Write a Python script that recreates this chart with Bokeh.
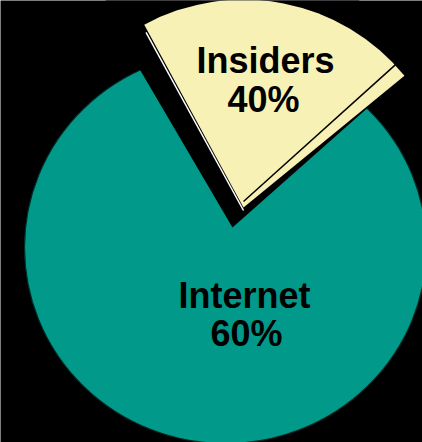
from bokeh.plotting import figure
from bokeh.models import Range1d
from bokeh.core.properties import value
from bokeh.embed import file_html
from bokeh.resources import INLINE

# ---- data ----
segments = ["Insiders", "Internet"]
shares = [40, 60]
colors = ["#F8F1B6", "#00998A"]

# ---- layout (pixel-like data space: x right, y up) ----
W, H = 422, 442
p = figure(width=W, height=H, output_backend="svg", toolbar_location=None,
           x_range=Range1d(0, W), y_range=Range1d(0, H),
           min_border=0, background_fill_color="black",
           border_fill_color="black", outline_line_color=None)
p.axis.visible = False
p.grid.visible = False

TOP = 442  # convert picture rows to y-up coordinates
deg = dict(start_angle_units="deg", end_angle_units="deg")

# Internet: main body of the pie
p.ellipse(x=[225], y=[TOP - 247], width=[402], height=[392],
          fill_color=colors[1], line_color="#002b26", line_width=1.2)
# gap left by the pulled-out slice
p.wedge(x=[232], y=[TOP - 227], radius=[260], start_angle=[41.5],
        end_angle=[120.4], fill_color="black", line_color=None, **deg)
# Insiders: exploded slice
p.wedge(x=[243], y=[TOP - 207], radius=[208], start_angle=[39.3],
        end_angle=[118.5], fill_color=colors[0], line_color=None, **deg)
p.ray(x=[243], y=[TOP - 210], length=[203], angle=[118.7],
      angle_units="deg", line_color="white", line_width=1.5)
p.ray(x=[243], y=[TOP - 201], length=[205], angle=[42.0],
      angle_units="deg", line_color="black", line_width=1.5)

# labels
names_x = [265, 244]
names_y = [TOP - 60, TOP - 295]
pct_x = [263, 246]
pct_y = [TOP - 99, TOP - 333]
font = value("Liberation Sans")
p.text(x=names_x, y=names_y, text=segments, text_font=font,
       text_font_style="bold", text_font_size="36px", text_color="black",
       text_align="center", text_baseline="alphabetic")
p.text(x=pct_x, y=pct_y, text=[f"{s}%" for s in shares], text_font=font,
       text_font_style="bold", text_font_size="36px", text_color="black",
       text_align="center", text_baseline="alphabetic")

open("out.html", "w").write(file_html(p, INLINE))
